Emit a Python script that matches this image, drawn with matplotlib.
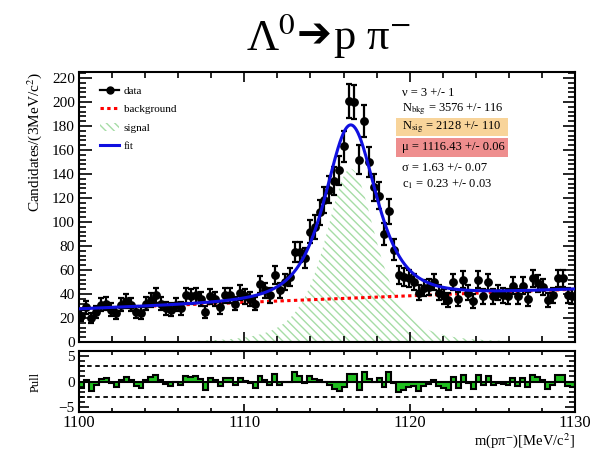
import math
import numpy as np
import matplotlib
matplotlib.use("Agg")
import matplotlib.pyplot as plt
from matplotlib.lines import Line2D
from matplotlib.patches import Patch, Rectangle
from matplotlib.ticker import MultipleLocator

plt.rcParams["font.family"] = ["Liberation Serif", "DejaVu Sans"]
plt.rcParams["mathtext.fontset"] = "stix"
plt.rcParams["hatch.linewidth"] = 1.0

# ---- binning of m(p pi-) ----
x_lo, x_hi, n_bins = 1100.0, 1130.0, 100

# ---- candidates per bin ----
counts = [
    22, 29, 20, 25, 31, 32, 27, 24, 31, 34,
    31, 25, 24, 32, 35, 39, 32, 28, 27, 31,
    28, 39, 38, 39, 36, 25, 38, 36, 29, 39,
    39, 32, 41, 38, 36, 32, 48, 43, 39, 56,
    43, 50, 54, 75, 75, 70, 92, 96, 108, 118,
    127, 134, 143, 163, 201, 200, 152, 184, 150, 129,
    122, 90, 109, 77, 56, 54, 53, 50, 41, 45,
    46, 50, 41, 38, 35, 50, 36, 52, 41, 34,
    52, 38, 50, 38, 41, 39, 38, 47, 38, 47,
    36, 53, 49, 46, 35, 39, 53, 53, 39, 38,
]

# ---- fit results (Student-t signal + 1st order Chebyshev background) ----
nu, nu_err = 3, 1
n_bkg, n_bkg_err = 3576, 116
n_sig, n_sig_err = 2128, 110
mu, mu_err = 1116.43, 0.06
sigma, sigma_err = 1.63, 0.07
c1, c1_err = 0.23, 0.03

bin_w = (x_hi - x_lo) / n_bins
centers = x_lo + bin_w * (np.arange(n_bins) + 0.5)
counts = np.array(counts, dtype=float)
errors = np.sqrt(counts)


def t_shape(x):
    z = (x - mu) / sigma
    norm = math.gamma((nu + 1) / 2) / (math.sqrt(nu * math.pi) * math.gamma(nu / 2))
    return norm * (1 + z ** 2 / nu) ** (-(nu + 1) / 2) / sigma


grid = np.linspace(x_lo, x_hi, 6001)
sig_norm = np.trapezoid(t_shape(grid), grid)


def sig_pdf(x):
    return t_shape(x) / sig_norm


def bkg_pdf(x):
    t = 2 * (x - x_lo) / (x_hi - x_lo) - 1
    return (1 + c1 * t) / (x_hi - x_lo)


def sig_curve(x):
    return bin_w * n_sig * sig_pdf(x)


def bkg_curve(x):
    return bin_w * n_bkg * bkg_pdf(x)


def fit_curve(x):
    return sig_curve(x) + bkg_curve(x)


pulls = (counts - fit_curve(centers)) / errors

# ---- figure ----
W, H = 597.0, 450.0
fig = plt.figure(figsize=(5.97, 4.5), dpi=100)
ax = fig.add_axes([0.1323, 0.24, 0.8308, 0.60])
axp = fig.add_axes([0.1323, 0.0844, 0.8308, 0.1356])

xs = np.linspace(x_lo, x_hi, 1200)
ax.fill_between(xs, 0, sig_curve(xs), facecolor="none", edgecolor="#a6dca6",
                hatch="\\\\\\\\", linewidth=0, zorder=1)
ax.plot(xs, bkg_curve(xs), color="red", lw=2.2, ls=(0, (1.1, 1.1)), zorder=2)
ax.plot(xs, fit_curve(xs), color="#1010e0", lw=2.2, zorder=4)
ax.errorbar(centers, counts, yerr=errors, fmt="o", color="black", ms=5.3,
            elinewidth=1.6, capsize=2.2, capthick=1.6, zorder=3)

ax.set_xlim(x_lo, x_hi)
ax.set_ylim(0, 225)
ax.xaxis.set_major_locator(MultipleLocator(10))
ax.xaxis.set_minor_locator(MultipleLocator(2))
ax.yaxis.set_major_locator(MultipleLocator(20))
ax.yaxis.set_minor_locator(MultipleLocator(4))
ax.tick_params(which="both", direction="in", top=True, right=True,
               labelbottom=False, labelsize=11, width=1.2, pad=3)
ax.tick_params(axis="y", which="major", length=9)
ax.tick_params(axis="y", which="minor", length=5)
ax.tick_params(axis="x", which="major", length=7)
ax.tick_params(axis="x", which="minor", length=4)
for s in ax.spines.values():
    s.set_linewidth(1.5)
ax.set_ylabel("Candidates/(3MeV/c$^{2}$)", fontsize=11, loc="top", labelpad=6)

# legend
handles = [
    Line2D([], [], color="black", marker="o", ms=5, lw=1.6),
    Line2D([], [], color="red", lw=2.2, ls=(0, (1.1, 1.1))),
    Patch(facecolor="none", edgecolor="#a6dca6", hatch="\\\\\\\\", linewidth=0),
    Line2D([], [], color="#1010e0", lw=2.2),
]
ax.legend(handles, ["data", "background", "signal", "fit"], loc="upper left",
          bbox_to_anchor=(0.168, 1 - 86 / H), bbox_transform=fig.transFigure,
          frameon=False, fontsize=8, handlelength=1.7, handletextpad=0.4,
          labelspacing=0.78, borderpad=0, borderaxespad=0)

# fit parameter box
fig.add_artist(Rectangle((396 / W, 1 - 136 / H), 112 / W, 18 / H,
                         transform=fig.transFigure, facecolor="#f8d49a",
                         edgecolor="none", zorder=0.5))
fig.add_artist(Rectangle((396 / W, 1 - 157 / H), 112 / W, 19 / H,
                         transform=fig.transFigure, facecolor="#ee8e8e",
                         edgecolor="none", zorder=0.5))
stat_lines = [
    (93, f"ν = {nu} +/- {nu_err}"),
    (109, f"N$_{{\\rm bkg}}$ = {n_bkg} +/- {n_bkg_err}"),
    (127, f"N$_{{\\rm sig}}$ = {n_sig} +/- {n_sig_err}"),
    (147, f"μ = {mu:.2f} +/- {mu_err:.2f}"),
    (168, f"σ = {sigma:.2f} +/- {sigma_err:.2f}"),
    (184, f"c$_{{1}}$ = {c1:.2f} +/- {c1_err:.2f}"),
]
for ypx, txt in stat_lines:
    fig.text(402 / W, 1 - ypx / H, txt, fontsize=9, va="center", ha="left")

# pull panel
edges = x_lo + bin_w * np.arange(n_bins + 1)
axp.bar(centers, pulls, width=bin_w, color="#1fbf1f", edgecolor="none", zorder=1)
axp.stairs(pulls, edges, color="black", lw=1.5, zorder=2)
axp.axhline(0, color="black", lw=1.5, zorder=2)
for lvl in (3, -3):
    axp.axhline(lvl, color="black", lw=1.3, ls=(0, (2.5, 2)), zorder=2)
axp.set_xlim(x_lo, x_hi)
axp.set_ylim(-6, 6)
axp.xaxis.set_major_locator(MultipleLocator(10))
axp.xaxis.set_minor_locator(MultipleLocator(2))
axp.yaxis.set_major_locator(MultipleLocator(5))
axp.yaxis.set_minor_locator(MultipleLocator(1))
axp.tick_params(which="both", direction="in", top=True, right=True,
                labelsize=11, width=1.2)
axp.tick_params(axis="x", which="major", length=6, labelsize=12, pad=2)
axp.tick_params(axis="x", which="minor", length=3)
axp.tick_params(axis="y", which="major", length=7, pad=3)
axp.tick_params(axis="y", which="minor", length=4)
for s in axp.spines.values():
    s.set_linewidth(1.5)
axp.set_ylabel("Pull", fontsize=9, labelpad=12)
fig.text(575 / W, 1 - 441 / H, "m(pπ$^{-}$)[MeV/c$^{2}$]", fontsize=10.5,
         ha="right", va="center")

# title: Lambda0 -> p pi-
base_y = 1 - 50 / H
fig.text(296 / W, base_y, "Λ$^{0}$", fontsize=32, ha="right", va="baseline")
fig.text(314 / W, 1 - 35 / H, "➔", fontsize=30, family="DejaVu Sans",
         fontweight="bold", ha="center", va="center")
fig.text(333 / W, base_y, "p π$^{-}$", fontsize=32, ha="left", va="baseline")

fig.savefig("out.png", dpi=100)
